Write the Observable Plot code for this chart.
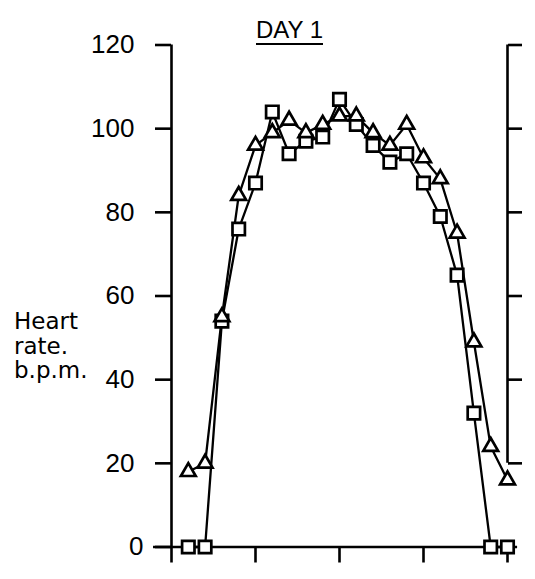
<!DOCTYPE html>
<html>
<head>
<meta charset="utf-8">
<script src="https://cdn.jsdelivr.net/npm/d3@7"></script>
<script src="https://cdn.jsdelivr.net/npm/@observablehq/plot@0.6"></script>
<style>
  html, body { margin: 0; padding: 0; background: #fff; }
  #chart { position: relative; width: 535px; height: 579px; }
  #title {
    position: absolute; left: 256px; top: 17.5px;
    font: 24px "Liberation Sans", Arial, sans-serif; line-height: 24px;
    color: #000; padding-bottom: 1px; border-bottom: 2px solid #000;
  }
  #ylabel {
    position: absolute; left: 14px; top: 309px;
    font: 23px "DejaVu Sans", sans-serif; line-height: 24.5px; color: #000;
  }
</style>
</head>
<body>
<div id="chart">
  <div id="title">DAY 1</div>
  <div id="ylabel">Heart<br>rate.<br>b.p.m.</div>
</div>
<script>
// Sample number along the session (1–20)
const sample = [1, 2, 3, 4, 5, 6, 7, 8, 9, 10, 11, 12, 13, 14, 15, 16, 17, 18, 19, 20];
// Heart rate (beats per minute), triangle series
const hrTriangle = [18, 20, 55, 84, 96, 99, 102, 99, 101, 103, 103, 99, 96, 101, 93, 88, 75, 49, 24, 16];
// Heart rate (beats per minute), square series
const hrSquare = [0, 0, 54, 76, 87, 104, 94, 97, 98, 107, 101, 96, 92, 94, 87, 79, 65, 32, 0, 0];
// Axis ticks
const yTicks = [0, 20, 40, 60, 80, 100, 120];
const xTicks = [0, 5, 10, 15, 20];

const tri = sample.map((s, i) => ({x: s, y: hrTriangle[i]}));
const sq = sample.map((s, i) => ({x: s, y: hrSquare[i]}));

const xDomain = [0, 20];
const yDomain = [0, 120];
const axisW = 2.6;

const chart = Plot.plot({
  width: 535,
  height: 579,
  marginLeft: 171,
  marginRight: 28,
  marginTop: 44.5,
  marginBottom: 32.5,
  x: {domain: xDomain},
  y: {domain: yDomain},
  style: {fontFamily: "'Liberation Sans', Arial, sans-serif", fontSize: "26px", color: "#000", background: "transparent", overflow: "visible"},
  marks: [
    // left axis with labelled ticks (the zero label sits a little closer to its tick)
    Plot.axisY({ticks: yTicks.filter(d => d > 0), tickSize: 16, tickPadding: 21, tickFormat: d => String(d), label: null, strokeWidth: axisW, fontSize: 26}),
    Plot.axisY({ticks: [yTicks[0]], tickSize: 16, tickPadding: 12, tickFormat: d => String(d), label: null, strokeWidth: axisW, fontSize: 26}),
    // right axis: ticks only
    Plot.axisY({anchor: "right", ticks: yTicks.filter(d => d > 0), tickSize: 14, tickFormat: () => "", label: null, strokeWidth: axisW}),
    // bottom axis: ticks only
    Plot.axisX({ticks: xTicks, tickSize: 16, tickFormat: () => "", label: null, strokeWidth: axisW}),
    Plot.ruleX([xDomain[0]], {y1: yDomain[0], y2: yDomain[1], strokeWidth: axisW}),
    Plot.ruleX([xDomain[1]], {y1: yTicks[1], y2: yDomain[1], strokeWidth: axisW}),
    Plot.ruleY([yDomain[0]], {x1: xDomain[0] - 1.07, x2: xDomain[1] + 0.6, strokeWidth: axisW}),
    // series lines
    Plot.line(sq, {x: "x", y: "y", stroke: "#000", strokeWidth: 2.3}),
    Plot.line(tri, {x: "x", y: "y", stroke: "#000", strokeWidth: 2.3}),
    // markers
    Plot.dot(sq, {x: "x", y: "y", symbol: "square", r: 7, fill: "#fff", stroke: "#000", strokeWidth: 2.7}),
    Plot.dot(tri, {x: "x", y: "y", symbol: "triangle", r: 5.5, fill: "#fff", stroke: "#000", strokeWidth: 2.7})
  ]
});
chart.style.position = "absolute";
chart.style.left = "0";
chart.style.top = "0";
document.getElementById("chart").prepend(chart);
</script>
</body>
</html>
